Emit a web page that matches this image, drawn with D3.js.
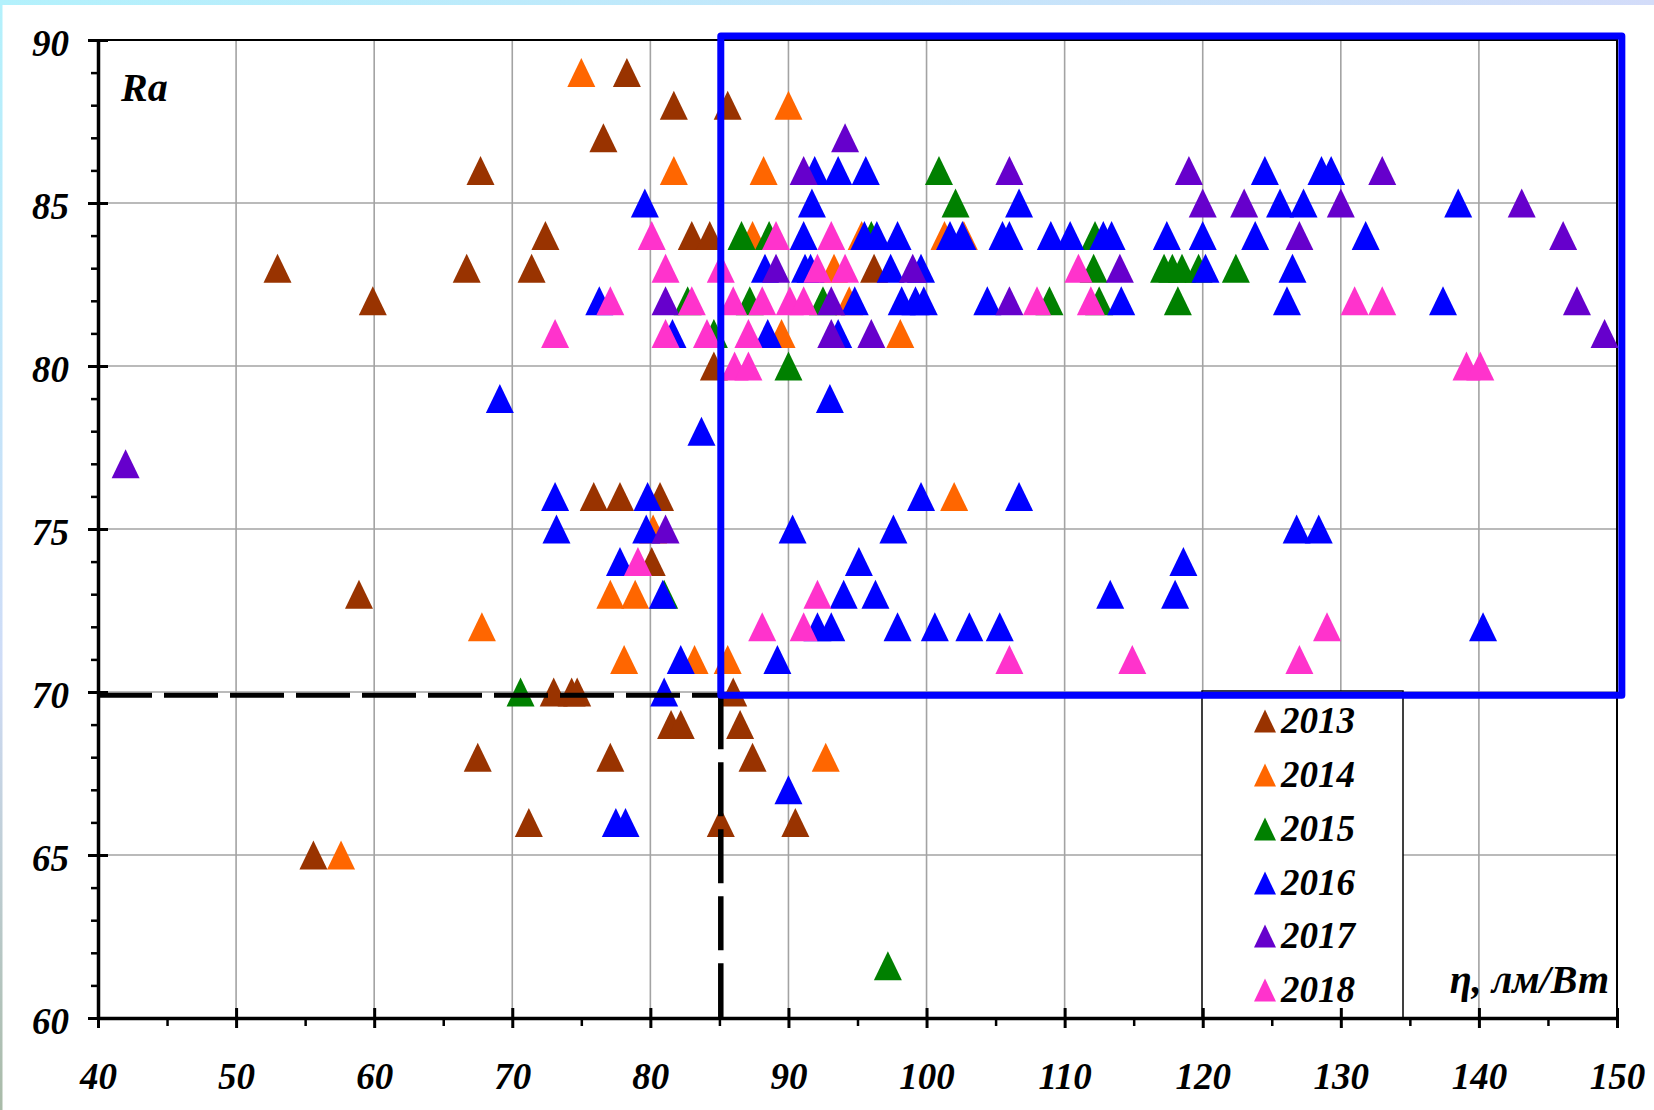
<!DOCTYPE html>
<html>
<head>
<meta charset="utf-8">
<title>Ra – η</title>
<script src="https://cdn.jsdelivr.net/npm/d3@7/dist/d3.min.js"></script>
<style>
html, body { margin: 0; padding: 0; background: #fff; }
svg { display: block; }
.lbl { font-family: "Liberation Serif", "Times New Roman", serif; font-weight: bold; font-style: italic; fill: #000; }
</style>
</head>
<body>
<svg id="chart" width="1654" height="1110"></svg>
<script>
// Colour rendering index Ra against luminous efficacy η (lm/W), one series per year
const years = ["2013", "2014", "2015", "2016", "2017", "2018"];
const colors = ["#993300", "#ff6600", "#008000", "#0000ff", "#6600cc", "#ff33cc"];

const eta2013 = [78.3, 81.7, 85.6, 76.6, 67.7, 72.4, 83.0, 84.3, 53.0, 66.7, 71.4, 96.2, 59.9, 84.6,
                 75.9, 77.8, 80.7, 80.1, 58.9, 73.0, 74.3, 74.7, 86.0, 81.5, 82.2, 86.5,
                 67.5, 77.1, 87.4, 71.2, 85.1, 90.5, 55.6];
const ra2013  = [89, 88, 88, 87, 86, 84, 84, 84, 83, 83, 83, 83, 82, 80,
                 76, 76, 76, 74, 73, 70, 70, 70, 70, 69, 69, 69,
                 68, 68, 68, 66, 66, 66, 65];

const eta2014 = [75.0, 90.0, 81.7, 88.2, 87.4, 95.3, 101.3, 102.7, 93.3, 94.4, 89.5, 98.1,
                 102.0, 80.2, 77.1, 78.9, 67.8, 78.1, 83.2, 85.6, 92.7, 57.6];
const ra2014  = [89, 88, 86, 86, 84, 84, 84, 84, 83, 82, 81, 81,
                 76, 75, 73, 73, 72, 71, 71, 71, 68, 65];

const eta2015 = [100.9, 102.1, 86.6, 88.6, 96.0, 112.2, 112.1, 117.2, 117.8, 118.5, 119.7, 122.4,
                 82.7, 87.2, 92.5, 108.9, 112.5, 118.2, 84.6, 90.0, 81.0, 70.6, 97.2];
const ra2015  = [86, 85, 84, 84, 84, 84, 83, 83, 83, 83, 83, 83,
                 82, 82, 82, 82, 82, 82, 81, 80, 73, 70, 61.6];

const eta2016 = [91.9, 93.6, 95.6, 124.5, 128.6, 129.3,
                 79.6, 91.7, 106.7, 125.6, 127.3, 138.5,
                 91.1, 95.5, 96.4, 97.9, 101.7, 102.6, 105.5, 106.0, 109.0, 110.4, 112.8, 113.4, 117.4, 120.0, 123.8, 131.8,
                 88.3, 91.2, 91.6, 97.4, 99.6, 120.2, 126.5,
                 76.3, 94.8, 98.2, 99.2, 99.8, 104.4, 114.1, 126.1, 137.4,
                 81.6, 88.5, 93.6,
                 69.1, 93.0,
                 83.7,
                 73.1, 79.8, 99.6, 106.7,
                 73.2, 79.7, 90.3, 97.6, 126.8, 128.4,
                 77.8, 95.1, 118.6,
                 80.9, 94.0, 96.3, 113.3, 118.0,
                 92.1, 93.1, 97.9, 100.6, 103.1, 105.3, 140.3,
                 82.2, 89.2,
                 81.0,
                 90.0,
                 77.5, 78.2];
const ra2016  = [86, 86, 86, 86, 86, 86,
                 85, 85, 85, 85, 85, 85,
                 84, 84, 84, 84, 84, 84, 84, 84, 84, 84, 84, 84, 84, 84, 84, 84,
                 83, 83, 83, 83, 83, 83, 83,
                 82, 82, 82, 82, 82, 82, 82, 82, 82,
                 81, 81, 81,
                 79, 79,
                 78,
                 76, 76, 76, 76,
                 75, 75, 75, 75, 75, 75,
                 74, 74, 74,
                 73, 73, 73, 73, 73,
                 72, 72, 72, 72, 72, 72, 72,
                 71, 71,
                 70,
                 67,
                 66, 66];

const eta2017 = [94.1, 91.1, 106.0, 119.0, 133.0, 120.0, 123.0, 130.0, 143.1, 127.0, 146.1,
                 89.1, 99.0, 114.0, 81.1, 93.1, 106.0, 147.1, 93.1, 96.0, 149.1, 42.0, 81.1];
const ra2017  = [87, 86, 86, 86, 86, 85, 85, 85, 85, 84, 84,
                 83, 83, 83, 82, 82, 82, 82, 81, 81, 81, 77, 75];

const eta2018 = [80.1, 89.1, 93.1,
                 81.1, 85.1, 92.1, 94.1, 111.0,
                 77.1, 83.0, 86.0, 88.1, 90.1, 91.1, 108.0, 111.9, 131.0, 133.0,
                 73.1, 81.1, 84.1, 87.1,
                 86.1, 87.1, 139.1, 140.1,
                 79.1, 92.1, 88.1, 91.1, 129.0, 106.0, 114.9, 127.0];
const ra2018  = [84, 84, 84,
                 83, 83, 83, 83, 83,
                 82, 82, 82, 82, 82, 82, 82, 82, 82, 82,
                 81, 81, 81, 81,
                 80, 80, 80, 80,
                 74, 73, 72, 72, 72, 71, 71, 71];

const etaSeries = [eta2013, eta2014, eta2015, eta2016, eta2017, eta2018];
const raSeries  = [ra2013, ra2014, ra2015, ra2016, ra2017, ra2018];

// Axis ticks
const xTicks = [40, 50, 60, 70, 80, 90, 100, 110, 120, 130, 140, 150];
const xMinorTicks = [45, 55, 65, 75, 85, 95, 105, 115, 125, 135, 145];
const yTicks = [60, 65, 70, 75, 80, 85, 90];
const yMinorTicks = [61, 62, 63, 64, 66, 67, 68, 69, 71, 72, 73, 74, 76, 77, 78, 79, 81, 82, 83, 84, 86, 87, 88, 89];

// Threshold lines (η = 85 lm/W, Ra = 70) and the zone of interest
const thresholdEta = 85.1;
const thresholdRa = 69.9;
const zoneEta = [85.1, 150.35];
const zoneRa = [69.9, 90.12];

const svg = d3.select("#chart");
const W = 1654, H = 1110;

// page background with the thin tinted edges
const defs = svg.append("defs");
const gTop = defs.append("linearGradient").attr("id", "edgeTop").attr("x1", 0).attr("x2", 1).attr("y1", 0).attr("y2", 0);
gTop.append("stop").attr("offset", 0).attr("stop-color", "#b3f1fc");
gTop.append("stop").attr("offset", 1).attr("stop-color", "#d3dcf9");
const gLeft = defs.append("linearGradient").attr("id", "edgeLeft").attr("x1", 0).attr("x2", 0).attr("y1", 0).attr("y2", 1);
gLeft.append("stop").attr("offset", 0).attr("stop-color", "#b3f1fc");
gLeft.append("stop").attr("offset", 0.6).attr("stop-color", "#cfdcf7");
gLeft.append("stop").attr("offset", 1).attr("stop-color", "#a9bba8");
svg.append("rect").attr("width", W).attr("height", H).attr("fill", "#fff");
svg.append("rect").attr("width", W).attr("height", 5).attr("fill", "url(#edgeTop)");
svg.append("rect").attr("y", 0).attr("width", 2.5).attr("height", H).attr("fill", "url(#edgeLeft)");

const x = d3.scaleLinear().domain([40, 150]).range([98, 1617]);
const y = d3.scaleLinear().domain([60, 90]).range([1018, 40]);

// grid
const grid = svg.append("g").attr("stroke", "#a3a3a3").attr("stroke-width", 1.6);
grid.selectAll("line.v").data(xTicks.slice(1, -1)).join("line").attr("class", "v")
  .attr("x1", d => x(d)).attr("x2", d => x(d)).attr("y1", y(90)).attr("y2", y(60));
grid.selectAll("line.h").data(yTicks.slice(1, -1)).join("line").attr("class", "h")
  .attr("x1", x(40)).attr("x2", x(150)).attr("y1", d => y(d)).attr("y2", d => y(d));

// plot frame (top and right)
svg.append("path")
  .attr("d", `M${x(40)},${y(90)}H${x(150)}V${y(60)}`)
  .attr("fill", "none").attr("stroke", "#000").attr("stroke-width", 2);

// markers
const tri = (w, h) => `M0,${-h / 2}L${w / 2},${h / 2}L${-w / 2},${h / 2}Z`;
const series = years.map((yr, i) => ({
  year: yr,
  color: colors[i],
  pts: d3.zip(etaSeries[i], raSeries[i])
}));
const marks = svg.append("g");
series.forEach(s => {
  marks.append("g").attr("fill", s.color)
    .selectAll("path").data(s.pts).join("path")
    .attr("d", tri(28, 29))
    .attr("transform", d => `translate(${x(d[0])},${y(d[1])})`);
});

// legend
const legend = svg.append("g");
legend.append("rect")
  .attr("x", 1202).attr("y", 691).attr("width", 201).attr("height", 327)
  .attr("fill", "#fff").attr("stroke", "#000").attr("stroke-width", 1.5);
const legendBase = [733, 787, 841, 895, 948, 1002];
series.forEach((s, i) => {
  legend.append("path").attr("d", tri(22, 23))
    .attr("transform", `translate(1265,${legendBase[i] - 12})`).attr("fill", s.color);
  legend.append("text").attr("class", "lbl").attr("x", 1281).attr("y", legendBase[i])
    .attr("font-size", 37).text(s.year);
});

// axes
function styleAxis(g) {
  g.attr("font-family", null).attr("font-size", null);
  g.selectAll("text").attr("class", "lbl").attr("font-size", 37).attr("fill", "#000");
  g.select(".domain").attr("stroke", "#000").attr("stroke-width", 3.5);
  g.selectAll(".tick line").attr("stroke", "#000").attr("stroke-width", 3);
}
const gx = svg.append("g").attr("transform", `translate(0,${y(60)})`)
  .call(d3.axisBottom(x).tickValues(xTicks).tickSizeInner(10).tickSizeOuter(0).tickPadding(35).tickFormat(d3.format("d")));
styleAxis(gx);
gx.selectAll(".tick line").attr("y1", -10);
const gxm = svg.append("g").attr("transform", `translate(0,${y(60)})`)
  .call(d3.axisBottom(x).tickValues(xMinorTicks).tickSize(8).tickFormat(""));
gxm.select(".domain").remove();
gxm.selectAll(".tick line").attr("stroke", "#000").attr("stroke-width", 2.5);

const gy = svg.append("g").attr("transform", `translate(${x(40)},0)`)
  .call(d3.axisLeft(y).tickValues(yTicks).tickSizeInner(10).tickSizeOuter(0).tickPadding(19).tickFormat(d3.format("d")));
styleAxis(gy);
gy.selectAll(".tick line").attr("x1", 10);
gy.selectAll(".tick text").attr("dy", "0.43em");
const gym = svg.append("g").attr("transform", `translate(${x(40)},0)`)
  .call(d3.axisLeft(y).tickValues(yMinorTicks).tickSize(7).tickFormat(""));
gym.select(".domain").remove();
gym.selectAll(".tick line").attr("stroke", "#000").attr("stroke-width", 2.5);

// threshold dashed lines
svg.append("path")
  .attr("d", `M${x(40)},${y(thresholdRa)}H${x(thresholdEta)}`)
  .attr("fill", "none").attr("stroke", "#000").attr("stroke-width", 5).attr("stroke-dasharray", "54 12");
svg.append("path")
  .attr("d", `M${x(thresholdEta)},${y(thresholdRa)}V${y(60)}`)
  .attr("fill", "none").attr("stroke", "#000").attr("stroke-width", 5.5).attr("stroke-dasharray", "54 13");

// zone of interest
svg.append("rect")
  .attr("x", x(zoneEta[0])).attr("y", y(zoneRa[1]))
  .attr("width", x(zoneEta[1]) - x(zoneEta[0])).attr("height", y(zoneRa[0]) - y(zoneRa[1]))
  .attr("fill", "none").attr("stroke", "#0000ff").attr("stroke-width", 7).attr("stroke-linejoin", "round");

// axis titles
svg.append("text").attr("class", "lbl").attr("x", 121).attr("y", 101).attr("font-size", 40).text("Ra");
svg.append("text").attr("class", "lbl").attr("x", 1609).attr("y", 993).attr("text-anchor", "end")
  .attr("font-size", 40).text("η, лм/Вт");
</script>
</body>
</html>
